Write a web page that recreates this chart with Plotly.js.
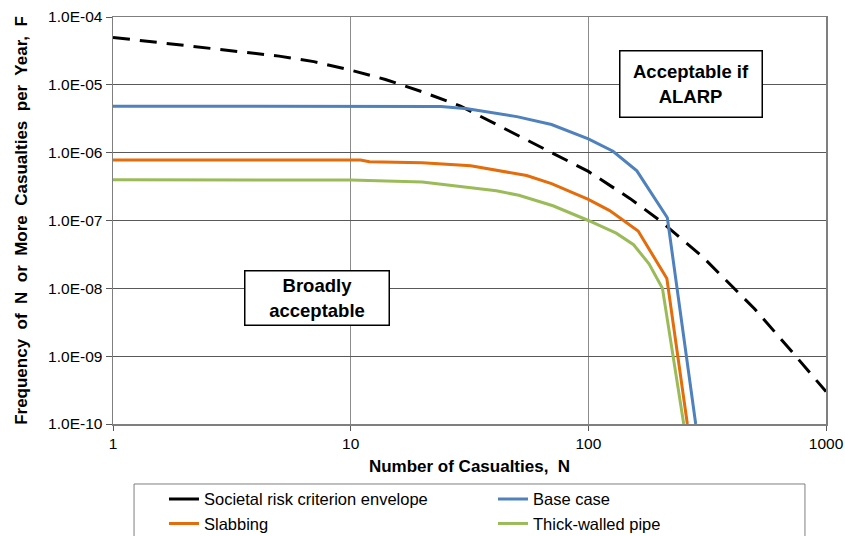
<!DOCTYPE html>
<html>
<head>
<meta charset="utf-8">
<script src="https://cdn.plot.ly/plotly-3.0.1.min.js"></script>
<style>html,body{margin:0;padding:0;background:#fff;}#chart{width:845px;height:536px;}</style>
</head>
<body>
<div id="chart"></div>
<script>
// Societal risk criterion envelope
const nEnv = [1, 2, 3, 5, 7, 10, 14, 20, 29, 41, 55, 73, 100, 150, 200, 300, 500, 700, 1000];
const fEnv = [5e-5, 3.8e-5, 3.2e-5, 2.65e-5, 2.2e-5, 1.65e-5, 1.2e-5, 7.9e-6, 4.85e-6, 2.6e-6, 1.57e-6, 9.4e-7, 5.3e-7, 2.1e-7, 1.0e-7, 3e-8, 5e-9, 1.3e-9, 3e-10];
// Base case
const nBase = [1, 10, 13, 24, 31, 50, 70, 100, 127, 160, 215, 283];
const fBase = [4.85e-6, 4.85e-6, 4.85e-6, 4.8e-6, 4.45e-6, 3.4e-6, 2.6e-6, 1.6e-6, 1.05e-6, 5.4e-7, 1.1e-7, 1e-10];
// Slabbing
const nSlab = [1, 11, 12, 20, 32, 55, 70, 100, 123, 162, 214, 261];
const fSlab = [7.8e-7, 7.8e-7, 7.35e-7, 7.1e-7, 6.4e-7, 4.6e-7, 3.5e-7, 2.05e-7, 1.4e-7, 7e-8, 1.4e-8, 1e-10];
// Thick-walled pipe
const nThick = [1, 10, 20, 31, 41, 51, 71, 100, 131, 155, 180, 205, 252];
const fThick = [4.0e-7, 3.95e-7, 3.7e-7, 3.1e-7, 2.75e-7, 2.35e-7, 1.65e-7, 1.0e-7, 6.5e-8, 4.4e-8, 2.3e-8, 1.0e-8, 1e-10];

const seriesNames = ['Societal risk criterion envelope', 'Base case', 'Slabbing', 'Thick-walled pipe'];
const xTickVals = [1, 10, 100, 1000];
const xTickText = ['1', '10', '100', '1000'];
const yTickVals = [1e-4, 1e-5, 1e-6, 1e-7, 1e-8, 1e-9, 1e-10];
const yTickText = ['1.0E-04', '1.0E-05', '1.0E-06', '1.0E-07', '1.0E-08', '1.0E-09', '1.0E-10'];

const FONT = 'Liberation Sans, Arial, sans-serif';
const sp = '\u00a0 ';

const traces = [
  // legend entry for the envelope (solid key, as in the original)
  {x: [null], y: [null], name: seriesNames[0], mode: 'lines', line: {color: '#000000', width: 3}, showlegend: true},
  {x: nEnv, y: fEnv, name: seriesNames[0], mode: 'lines', line: {color: '#000000', width: 3, dash: '17px,10px'}, showlegend: false},
  {x: nBase, y: fBase, name: seriesNames[1], mode: 'lines', line: {color: '#4f81bd', width: 3}},
  {x: nSlab, y: fSlab, name: seriesNames[2], mode: 'lines', line: {color: '#e46c0a', width: 3}},
  {x: nThick, y: fThick, name: seriesNames[3], mode: 'lines', line: {color: '#9bbb59', width: 3}}
];

const layout = {
  width: 845, height: 536,
  margin: {l: 113, r: 19, t: 17, b: 112, pad: 0, autoexpand: false},
  paper_bgcolor: '#ffffff', plot_bgcolor: '#ffffff',
  font: {family: FONT, size: 15, color: '#000000'},
  showlegend: true,
  xaxis: {
    type: 'log', range: [0, 3],
    tickvals: xTickVals, ticktext: xTickText,
    ticks: 'outside', ticklen: 5, tickcolor: '#595959', tickwidth: 1,
    showgrid: true, gridcolor: '#8c8c8c', gridwidth: 1,
    showline: true, linecolor: '#7f7f7f', linewidth: 1.5, mirror: true,
    zeroline: false,
    tickfont: {family: FONT, size: 15.5, color: '#000'},
    title: {text: 'Number of Casualties,' + sp + 'N', font: {family: FONT, size: 17, color: '#000', weight: 'bold'}, standoff: 9},
    automargin: false
  },
  yaxis: {
    type: 'log', range: [-10, -4],
    tickvals: yTickVals, ticktext: yTickText,
    ticks: 'outside', ticklen: 6, tickcolor: '#595959', tickwidth: 1,
    showgrid: true, gridcolor: '#595959', gridwidth: 1,
    showline: true, linecolor: '#7f7f7f', linewidth: 1.5, mirror: true,
    zeroline: false,
    tickfont: {family: FONT, size: 15.5, color: '#000'},
    title: {text: 'Frequency' + sp + 'of' + sp + 'N' + sp + 'or' + sp + 'More' + sp + 'Casualties' + sp + 'per' + sp + 'Year,' + sp + 'F', font: {family: FONT, size: 17, color: '#000', weight: 'bold'}, standoff: 16},
    automargin: false
  },
  legend: {
    orientation: 'h',
    x: 0.0715, xanchor: 'left',
    y: -0.1420, yanchor: 'top',
    entrywidth: 284, entrywidthmode: 'pixels',
    borderwidth: 0, bgcolor: 'rgba(0,0,0,0)',
    font: {family: FONT, size: 16.5, color: '#000'},
    traceorder: 'normal', itemwidth: 30, tracegroupgap: 0
  },
  shapes: [
    {type: 'rect', xref: 'paper', yref: 'paper', x0: 0.0295, x1: 0.9705, y0: -0.1474, y1: -0.30,
     line: {color: '#7f7f7f', width: 1}, fillcolor: 'rgba(0,0,0,0)', layer: 'below'}
  ],
  annotations: [
    {xref: 'paper', yref: 'paper', x: 0.810, y: 0.835, xanchor: 'center', yanchor: 'middle',
     text: '<b>Acceptable if<br>ALARP</b>', showarrow: false,
     font: {family: FONT, size: 18.5, color: '#000'},
     bgcolor: '#ffffff', bordercolor: '#000000', borderwidth: 1.5, borderpad: 0,
     width: 141, height: 65, align: 'center'},
    {xref: 'paper', yref: 'paper', x: 0.2868, y: 0.3096, xanchor: 'center', yanchor: 'middle',
     text: '<b>Broadly<br>acceptable</b>', showarrow: false,
     font: {family: FONT, size: 18.5, color: '#000'},
     bgcolor: '#ffffff', bordercolor: '#000000', borderwidth: 1.5, borderpad: 0,
     width: 143, height: 53, align: 'center'}
  ]
};

Plotly.newPlot('chart', traces, layout, {displayModeBar: false, staticPlot: true});
</script>
</body>
</html>
